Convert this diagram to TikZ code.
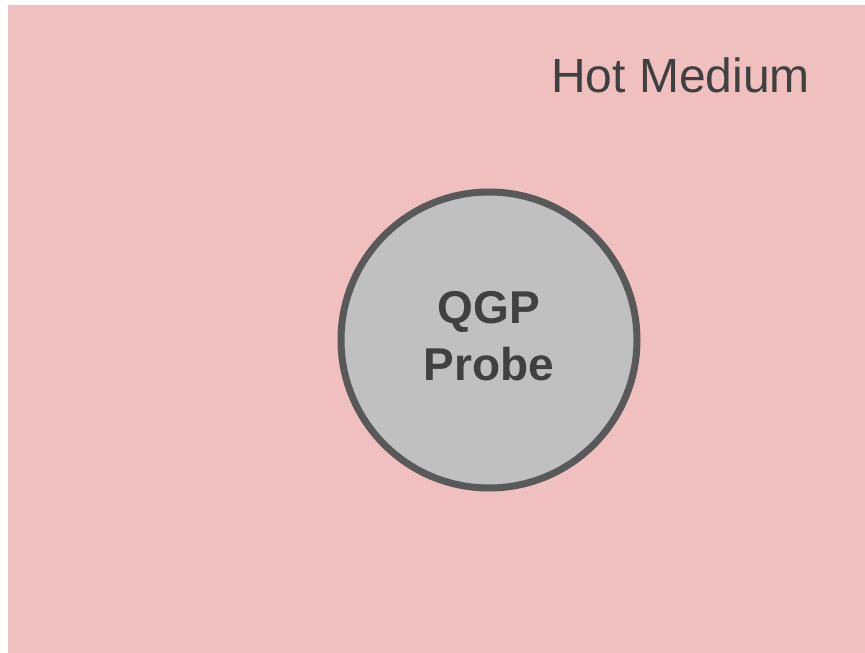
\documentclass[tikz,border=0pt]{standalone}
\usepackage{fontspec}
\setmainfont{Liberation Sans}
\definecolor{medium}{RGB}{240,192,192}
\definecolor{probefill}{RGB}{192,192,192}
\definecolor{probeline}{RGB}{89,89,89}
\definecolor{txt}{RGB}{64,64,64}
\tikzset{
  mediumbox/.style={fill=medium, draw=none},
  probe/.style={circle, fill=probefill, draw=probeline, line width=7pt, minimum size=296pt, inner sep=0pt},
  biglabel/.style={text=txt, font=\fontsize{48}{58}\selectfont},
  probelabel/.style={text=txt, font=\bfseries\fontsize{46}{57}\selectfont, align=center}
}
\begin{document}
\begin{tikzpicture}[x=1pt,y=-1pt]
\useasboundingbox (0,0) rectangle (865,653);
\fill[white] (0,0) rectangle (865,653);
\path[mediumbox] (8,5) rectangle (865,653);
\node[probe] (probe) at (489,340) {};
\node[probelabel, anchor=base] (qgp) at (489,323) {QGP};
\node[probelabel, anchor=base] (probetext) at (489,380) {Probe};
\node[biglabel, anchor=base west, inner sep=0pt] (hot) at (551,92.3) {Hot Medium};
\end{tikzpicture}
\end{document}
